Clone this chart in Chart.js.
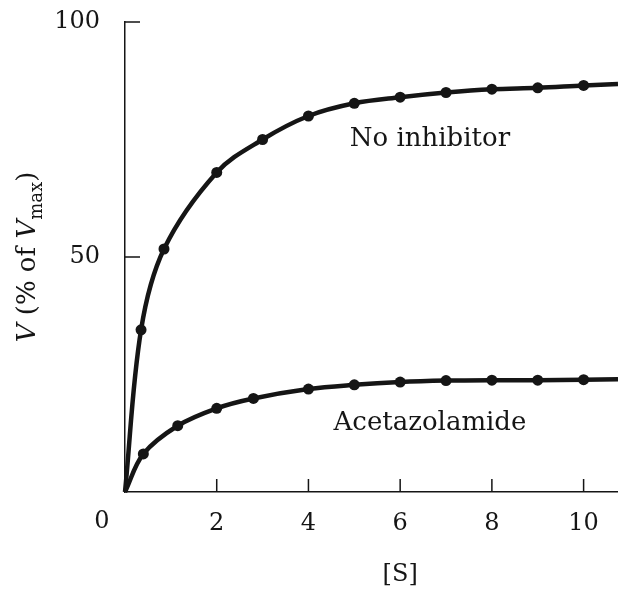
<!DOCTYPE html>
<html>
<head>
<meta charset="utf-8">
<title>Rate vs substrate concentration</title>
<script src="https://cdn.jsdelivr.net/npm/chart.js@4.4.1/dist/chart.umd.min.js"></script>
<style>
  html, body { margin: 0; padding: 0; background: #fff; }
  #wrap { width: 618px; height: 590px; }
</style>
</head>
<body>
<div id="wrap"><canvas id="rateChart" width="618" height="590"></canvas></div>
<script>
// Values: V (% of Vmax) against [S]

const noInhibitorS = [0.35, 0.85, 2, 3, 4, 5, 6, 7, 8, 9, 10];
const noInhibitorV = [34.5, 51.7, 68, 75, 80, 82.7, 84, 85, 85.7, 86, 86.5];

const acetazolamideS = [0.4, 1.15, 2, 2.8, 4, 5, 6, 7, 8, 9, 10];
const acetazolamideV = [8.1, 14.1, 17.8, 19.9, 21.9, 22.8, 23.4, 23.7, 23.8, 23.8, 23.9];

// both curves start at the origin and run off the right edge of the frame
const curveStartS = 0;
const curveStartV = 0;
const curveEndS = 10.75;
const noInhibitorEdgeV = 86.8;
const acetazolamideEdgeV = 24;

const xTickStep = 2;
const yTickStep = 50;
const yMax = 100;

const ink = '#151515';
const serif = '"DejaVu Serif", "Liberation Serif", serif';

function curvePoints(xs, ys, edgeV) {
  const pts = [{ x: curveStartS, y: curveStartV }];
  xs.forEach((x, i) => pts.push({ x: x, y: ys[i] }));
  pts.push({ x: curveEndS, y: edgeV });
  return pts;
}

// markers only on the measured points, not on the curve ends
function markerRadius(ctx) {
  const last = ctx.dataset.data.length - 1;
  return (ctx.dataIndex === 0 || ctx.dataIndex === last) ? 0 : 5.5;
}

const figureText = {
  id: 'figureText',
  afterDraw(chart) {
    const { ctx, scales: { x, y } } = chart;
    ctx.save();

    // tick marks point into the plot
    ctx.strokeStyle = ink;
    ctx.lineWidth = 1.5;
    ctx.beginPath();
    x.ticks.forEach(t => {
      if (t.value === 0) return;
      const px = x.getPixelForValue(t.value);
      ctx.moveTo(px, y.bottom);
      ctx.lineTo(px, y.bottom - 13);
    });
    y.ticks.forEach(t => {
      if (t.value === 0) return;
      const py = y.getPixelForValue(t.value);
      ctx.moveTo(x.left, py);
      ctx.lineTo(x.left + 15, py);
    });
    ctx.stroke();

    ctx.fillStyle = ink;
    ctx.textAlign = 'center';
    ctx.textBaseline = 'middle';

    // shared zero sits off the corner
    ctx.font = '24px ' + serif;
    ctx.fillText('0', x.left - 23, y.bottom + 30);
    ctx.fillText('[S]', x.getPixelForValue(6), y.bottom + 83);

    // curve labels
    ctx.font = '26px ' + serif;
    ctx.fillText('No inhibitor', x.getPixelForValue(6.65), y.getPixelForValue(75));
    ctx.fillText('Acetazolamide', x.getPixelForValue(6.65), y.getPixelForValue(14.7));

    // y title with subscript, rotated
    const pieces = [
      { t: 'V', f: 'italic 26px ' + serif, dy: 0 },
      { t: ' (% of ', f: '26px ' + serif, dy: 0 },
      { t: 'V', f: 'italic 26px ' + serif, dy: 0 },
      { t: 'max', f: '18px ' + serif, dy: 7 },
      { t: ')', f: '26px ' + serif, dy: 0 }
    ];
    let total = 0;
    pieces.forEach(p => {
      ctx.font = p.f;
      p.w = ctx.measureText(p.t).width;
      total += p.w;
    });
    ctx.translate(35, (y.top + y.bottom) / 2);
    ctx.rotate(-Math.PI / 2);
    ctx.textAlign = 'left';
    ctx.textBaseline = 'alphabetic';
    let cx = -total / 2;
    pieces.forEach(p => {
      ctx.font = p.f;
      ctx.fillText(p.t, cx, p.dy);
      cx += p.w;
    });

    ctx.restore();
  }
};

const seriesStyle = {
  borderColor: ink,
  borderWidth: 4.5,
  backgroundColor: ink,
  pointBackgroundColor: ink,
  pointBorderWidth: 0,
  pointRadius: markerRadius,
  tension: 0.35,
  fill: false,
  clip: false
};

new Chart(document.getElementById('rateChart'), {
  type: 'line',
  data: {
    datasets: [
      Object.assign({ label: 'No inhibitor', data: curvePoints(noInhibitorS, noInhibitorV, noInhibitorEdgeV) }, seriesStyle),
      Object.assign({ label: 'Acetazolamide', data: curvePoints(acetazolamideS, acetazolamideV, acetazolamideEdgeV) }, seriesStyle)
    ]
  },
  options: {
    responsive: false,
    animation: false,
    devicePixelRatio: 1,
    layout: { padding: { top: 22, right: 0, bottom: 0, left: 0 } },
    plugins: {
      legend: { display: false },
      tooltip: { enabled: false }
    },
    scales: {
      x: {
        type: 'linear',
        min: 0,
        max: curveEndS,
        afterFit: s => { s.height = 98; s.paddingLeft = 0; s.paddingRight = 0; },
        grid: { display: false },
        border: { display: true, color: ink, width: 1.5 },
        ticks: {
          stepSize: xTickStep,
          includeBounds: false,
          padding: 9,
          color: ink,
          font: { family: serif, size: 24 },
          callback: v => (v === 0 ? '' : v)
        }
      },
      y: {
        min: 0,
        max: yMax,
        afterFit: s => { s.width = 125; s.paddingTop = 0; s.paddingBottom = 0; },
        grid: { display: false },
        border: { display: true, color: ink, width: 1.5 },
        ticks: {
          stepSize: yTickStep,
          padding: 17,
          color: ink,
          font: { family: serif, size: 24 },
          callback: v => (v === 0 ? '' : v)
        }
      }
    }
  },
  plugins: [figureText]
});
</script>
</body>
</html>
